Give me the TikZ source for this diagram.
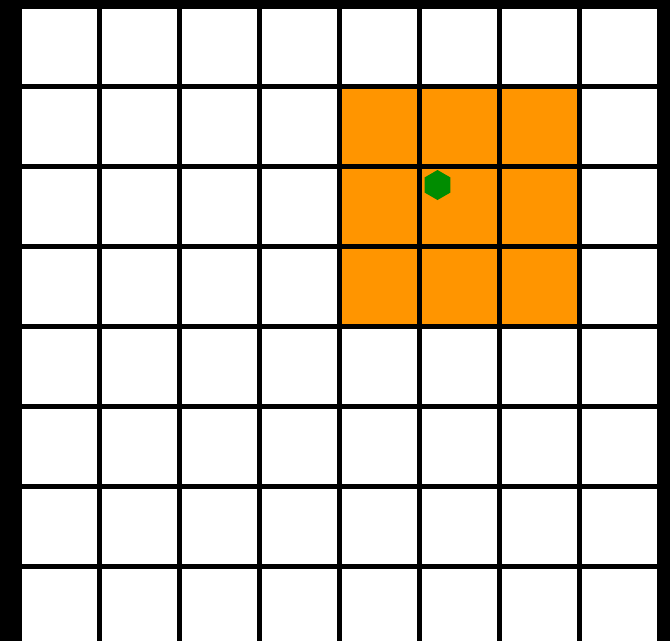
\documentclass[tikz,border=0pt]{standalone}
\usetikzlibrary{shapes.geometric}
\definecolor{cellorange}{RGB}{255,149,0}
\definecolor{agentgreen}{RGB}{0,140,0}
\begin{document}
\begin{tikzpicture}[
    x=1pt, y=-1pt,
    cell/.style={fill=white},
    hot/.style={fill=cellorange},
    agent/.style={regular polygon, regular polygon sides=6, shape border rotate=30,
        fill=agentgreen, minimum size=30pt, inner sep=0pt}
]
    \fill[black] (0,0) rectangle (670,641);
    \useasboundingbox (0,0) rectangle (670,641);
    % 8x8 board
    \foreach \i in {0,...,7}
        \foreach \j in {0,...,7}
            \fill[cell] ({21.5+80*\i},{8.5+80*\j}) rectangle ++(75,75);
    % neighbourhood of the agent
    \foreach \i in {4,5,6}
        \foreach \j in {1,2,3}
            \fill[hot] ({21.5+80*\i},{8.5+80*\j}) rectangle ++(75,75);
    \node[agent] (agent) at (437.5,185) {};
\end{tikzpicture}
\end{document}
